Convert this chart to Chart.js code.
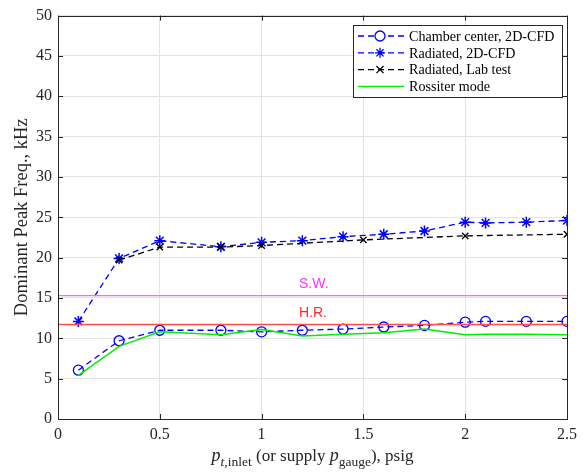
<!DOCTYPE html>
<html lang="en">
<head>
    <meta charset="UTF-8">
    <title>Dominant Peak Frequency</title>
    <script src="https://cdn.jsdelivr.net/npm/chart.js"></script>
    <style>
        html, body { margin: 0; padding: 0; background: #fff; }
        #wrap { width: 583px; height: 475px; }
    </style>
</head>
<body>
<div id="wrap"><canvas id="freqChart" width="583" height="475"></canvas></div>
<script>
    // data
    const pressureCfd = [0.1, 0.3, 0.5, 0.8, 1.0, 1.2, 1.4, 1.6, 1.8, 2.0, 2.1, 2.3, 2.5];
    const chamberCenter = [6.05, 9.7, 11.0, 11.0, 10.8, 11.0, 11.15, 11.4, 11.6, 12.0, 12.1, 12.1, 12.1];
    const radiatedCfd = [12.1, 19.9, 22.1, 21.35, 21.9, 22.1, 22.6, 22.9, 23.3, 24.4, 24.3, 24.4, 24.6];
    const rossiterMode = [5.4, 9.0, 10.8, 10.45, 11.1, 10.3, 10.5, 10.7, 11.15, 10.45, 10.5, 10.5, 10.45];
    const pressureLab = [0.3, 0.5, 0.8, 1.0, 1.5, 2.0, 2.5];
    const radiatedLab = [19.7, 21.3, 21.3, 21.5, 22.2, 22.7, 22.9];
    const swLevel = 15.3;
    const hrLevel = 11.7;
    const xTicks = [0, 0.5, 1, 1.5, 2, 2.5];

    const serif = '"Liberation Serif", "Times New Roman", serif';
    const pts = (xs, ys) => xs.map((x, i) => ({ x: x, y: ys[i] }));

    const legendItems = [
        { text: 'Chamber center, 2D-CFD', color: '#0000ff', dash: [6, 4], marker: 'circle' },
        { text: 'Radiated, 2D-CFD', color: '#0000ff', dash: [6, 4], marker: 'star' },
        { text: 'Radiated, Lab test', color: '#000000', dash: [6, 4], marker: 'crossRot' },
        { text: 'Rossiter mode', color: '#00ee00', dash: [], marker: null }
    ];

    // box, inward ticks, titles, legend and labels
    const decorPlugin = {
        id: 'decor',
        afterDraw(chart) {
            const ctx = chart.ctx;
            const a = chart.chartArea;
            const xs = chart.scales.x, ys = chart.scales.y;
            ctx.save();
            ctx.strokeStyle = '#262626';
            ctx.lineWidth = 1;
            ctx.beginPath();
            xTicks.forEach(t => {
                const px = Math.round(xs.getPixelForValue(t)) + 0.5;
                ctx.moveTo(px, a.bottom); ctx.lineTo(px, a.bottom - 5);
                ctx.moveTo(px, a.top); ctx.lineTo(px, a.top + 5);
            });
            for (let v = 0; v <= 50; v += 5) {
                const py = Math.round(ys.getPixelForValue(v)) + 0.5;
                ctx.moveTo(a.left, py); ctx.lineTo(a.left + 5, py);
                ctx.moveTo(a.right, py); ctx.lineTo(a.right - 5, py);
            }
            ctx.stroke();
            ctx.strokeRect(Math.round(a.left) + 0.5, Math.round(a.top) + 0.5,
                Math.round(a.right - a.left), Math.round(a.bottom - a.top));

            // reference line labels
            ctx.font = '14px "Liberation Sans", Arial, sans-serif';
            ctx.textAlign = 'left';
            ctx.textBaseline = 'alphabetic';
            ctx.fillStyle = '#ff33ff';
            ctx.fillText('S.W.', 299, 288);
            ctx.fillStyle = '#ff2a2a';
            ctx.fillText('H.R.', 299, 317);

            // y title
            ctx.fillStyle = '#262626';
            ctx.font = '18.5px ' + serif;
            ctx.save();
            ctx.translate(27, (a.top + a.bottom) / 2);
            ctx.rotate(-Math.PI / 2);
            ctx.textAlign = 'center';
            ctx.fillText('Dominant Peak Freq., kHz', 0, 0);
            ctx.restore();

            // x title with subscripts
            const parts = [
                { t: 'p', f: 'italic 18px ', dy: 0 },
                { t: 't', f: 'italic 13.5px ', dy: 5 },
                { t: ',inlet', f: '13.5px ', dy: 5 },
                { t: ' (or supply ', f: '17px ', dy: 0 },
                { t: 'p', f: 'italic 18px ', dy: 0 },
                { t: 'gauge', f: '13.5px ', dy: 5 },
                { t: '), psig', f: '17px ', dy: 0 }
            ];
            let total = 0;
            parts.forEach(p => { ctx.font = p.f + serif; p.w = ctx.measureText(p.t).width; total += p.w; });
            let cx = (a.left + a.right) / 2 - total / 2;
            ctx.textAlign = 'left';
            parts.forEach(p => {
                ctx.font = p.f + serif;
                ctx.fillText(p.t, cx, 461 + p.dy);
                cx += p.w;
            });

            // legend
            const lx = 353, ly = 25, lw = 209, lh = 72;
            ctx.fillStyle = '#fff';
            ctx.fillRect(lx, ly, lw, lh);
            ctx.strokeStyle = '#262626';
            ctx.strokeRect(lx + 0.5, ly + 0.5, lw, lh);
            legendItems.forEach((it, i) => {
                const y = ly + 11 + i * 16.8;
                ctx.strokeStyle = it.color;
                ctx.lineWidth = 1.3;
                ctx.setLineDash(it.dash);
                ctx.beginPath();
                ctx.moveTo(358, y); ctx.lineTo(404, y);
                ctx.stroke();
                ctx.setLineDash([]);
                if (it.marker) {
                    Chart.helpers.drawPoint(ctx, { pointStyle: it.marker, radius: 5, borderWidth: 1.3 }, 380, y);
                }
                ctx.fillStyle = '#000';
                ctx.font = '14.1px ' + serif;
                ctx.textBaseline = 'middle';
                ctx.fillText(it.text, 409, y + 1);
                ctx.textBaseline = 'alphabetic';
            });
            ctx.restore();
        }
    };

    const dashed = [6, 4];
    new Chart(document.getElementById('freqChart').getContext('2d'), {
        type: 'scatter',
        data: {
            datasets: [
                {
                    label: 'S.W.',
                    data: pts([0, 2.5], [swLevel, swLevel]),
                    showLine: true, borderColor: '#ff66ff', borderWidth: 1.2, pointRadius: 0
                },
                {
                    label: 'H.R.',
                    data: pts([0, 2.5], [hrLevel, hrLevel]),
                    showLine: true, borderColor: '#ff4d4d', borderWidth: 1.5, pointRadius: 0
                },
                {
                    label: 'Rossiter mode',
                    data: pts(pressureCfd, rossiterMode),
                    showLine: true, borderColor: '#00ee00', borderWidth: 1.5, pointRadius: 0
                },
                {
                    label: 'Radiated, Lab test',
                    data: pts(pressureLab, radiatedLab),
                    showLine: true, borderColor: '#000', borderWidth: 1.3, borderDash: dashed,
                    pointStyle: 'crossRot', pointRadius: 4.5, pointBorderColor: '#000', pointBorderWidth: 1.3
                },
                {
                    label: 'Radiated, 2D-CFD',
                    data: pts(pressureCfd, radiatedCfd),
                    showLine: true, borderColor: '#0000ff', borderWidth: 1.3, borderDash: dashed,
                    pointStyle: 'star', pointRadius: 5.5, pointBorderColor: '#0000ff', pointBorderWidth: 1.5
                },
                {
                    label: 'Chamber center, 2D-CFD',
                    data: pts(pressureCfd, chamberCenter),
                    showLine: true, borderColor: '#0000ff', borderWidth: 1.3, borderDash: dashed,
                    pointStyle: 'circle', pointRadius: 5, pointBackgroundColor: 'rgba(0,0,0,0)',
                    pointBorderColor: '#0000ff', pointBorderWidth: 1.3
                }
            ]
        },
        options: {
            responsive: false,
            animation: false,
            layout: { padding: { top: 12, right: 8, left: 0, bottom: 0 } },
            plugins: {
                legend: { display: false },
                tooltip: { enabled: false }
            },
            scales: {
                x: {
                    type: 'linear', min: 0, max: 2.5,
                    afterFit: s => { s.height = 56; },
                    afterBuildTicks: s => { s.ticks = xTicks.map(v => ({ value: v })); },
                    grid: { color: '#e3e3e3', drawTicks: false },
                    border: { display: false },
                    ticks: {
                        color: '#262626', padding: 6,
                        font: { family: serif, size: 16 },
                        callback: v => String(v)
                    }
                },
                y: {
                    min: 0, max: 50,
                    afterFit: s => { s.width = 58; },
                    grid: { color: '#e3e3e3', drawTicks: false },
                    border: { display: false },
                    ticks: {
                        stepSize: 5, color: '#262626', padding: 6,
                        font: { family: serif, size: 16 }
                    }
                }
            }
        },
        plugins: [decorPlugin]
    });
</script>
</body>
</html>
